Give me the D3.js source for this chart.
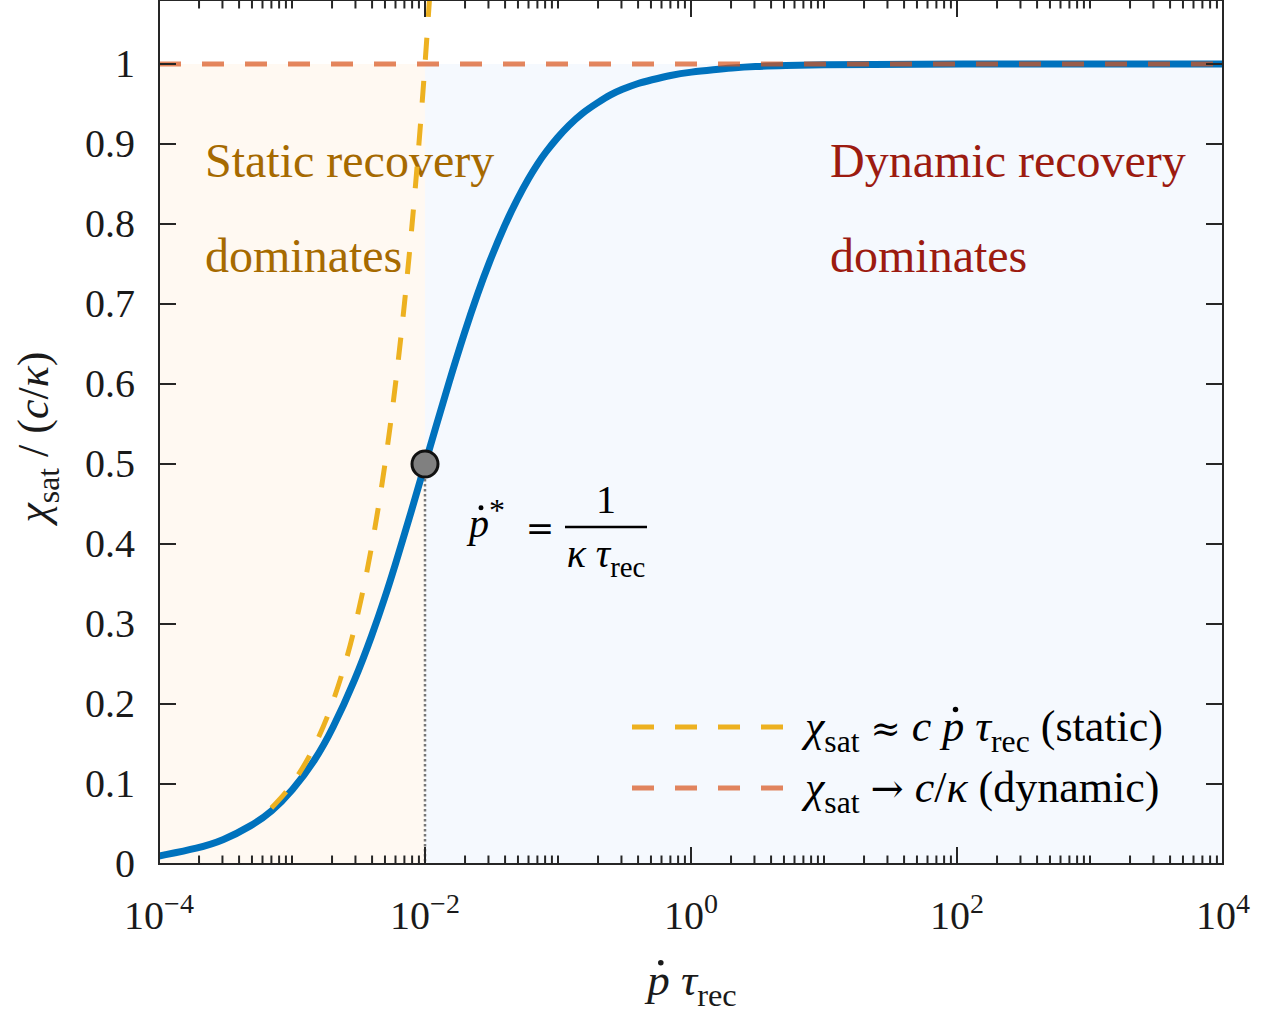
<!DOCTYPE html>
<html><head><meta charset="utf-8">
<script src="https://cdn.jsdelivr.net/npm/d3@7"></script>
<style>
body{margin:0;background:#fff}
text{font-family:"Liberation Serif","Times New Roman",serif;white-space:pre}
</style>
</head><body>
<svg id="c" width="1271" height="1012"></svg>
<script>
// ---------- data ----------
const curveX = [1e-4, 2e-4, 3e-4, 5e-4, 7e-4, 1e-3, 1.5e-3, 2e-3, 3e-3, 4e-3, 5e-3, 6e-3, 7e-3, 8.5e-3, 1e-2, 1.2e-2, 1.5e-2, 2e-2, 2.5e-2, 3e-2, 4e-2, 5e-2, 6e-2, 7e-2, 8e-2, 0.1, 0.12, 0.15, 0.2, 0.25, 0.3, 0.4, 0.5, 0.7, 1, 1.5, 2, 3, 5, 10, 20, 100, 1e3, 1e4];
const curveY = [0.010, 0.020, 0.029, 0.048, 0.065, 0.091, 0.130, 0.167, 0.231, 0.286, 0.333, 0.375, 0.412, 0.459, 0.500, 0.545, 0.600, 0.667, 0.714, 0.750, 0.800, 0.833, 0.857, 0.875, 0.889, 0.909, 0.923, 0.938, 0.952, 0.962, 0.968, 0.976, 0.980, 0.986, 0.990, 0.993, 0.995, 0.997, 0.998, 0.999, 0.9995, 1.000, 1.000, 1.000];
const staticX = [7e-4, 1e-3, 1.5e-3, 2e-3, 3e-3, 4e-3, 5e-3, 6e-3, 7e-3, 8e-3, 9e-3, 1e-2, 1.08e-2];
const staticY = [0.07, 0.10, 0.15, 0.20, 0.30, 0.40, 0.50, 0.60, 0.70, 0.80, 0.90, 1.00, 1.08];
const dynamicX = [1e-4, 1e4];
const dynamicY = [1, 1];
const crossoverX = 0.01;
const crossoverY = 0.5;
const xDomain = [1e-4, 1e4];
const yDomain = [0, 1.08];
const yTicks = [0, 0.1, 0.2, 0.3, 0.4, 0.5, 0.6, 0.7, 0.8, 0.9, 1];
const yTickLabels = ["0", "0.1", "0.2", "0.3", "0.4", "0.5", "0.6", "0.7", "0.8", "0.9", "1"];
const xMajorTicks = [1e-4, 1e-2, 1, 1e2, 1e4];
const xTickExponents = ["\u22124", "\u22122", "0", "2", "4"];
const regionLabels = [["Static recovery", "dominates"], ["Dynamic recovery", "dominates"]];

// ---------- layout ----------
const M = {l: 159, r: 1223, t: 0, b: 864};
const svg = d3.select("#c");
const x = d3.scaleLog().domain(xDomain).range([M.l, M.r]);
const y = d3.scaleLinear().domain(yDomain).range([M.b, M.t]);
const AX = "#262626";
const BLUE = "#0072BD", YEL = "#EDB120", ORA = "#D95319";
const SYM = "'DejaVu Serif', serif";

svg.append("defs").append("clipPath").attr("id", "clip")
  .append("rect").attr("x", M.l).attr("y", M.t).attr("width", M.r - M.l).attr("height", M.b - M.t);

// math text helper
function mathText(parent, px, py, parts, size, opts = {}) {
  const g = parent.append("g");
  if (opts.transform) g.attr("transform", opts.transform);
  const t = g.append("text").attr("x", px).attr("y", py).attr("font-size", size)
    .attr("fill", opts.fill || "#000");
  if (opts.anchor) t.attr("text-anchor", opts.anchor);
  let shift = 0, idx = 0; const dots = [];
  parts.forEach(p => {
    const s = t.append("tspan").text(p.t);
    let target = 0, fs = size;
    if (p.sub) { target = 0.24 * size; fs = 0.72 * size; }
    if (p.sup) { target = -0.4 * size; fs = 0.7 * size; }
    if (p.scale) fs = size * p.scale;
    s.attr("font-size", fs);
    if (p.font) s.style("font-family", p.font);
    if (target !== shift) { s.attr("dy", target - shift); shift = target; }
    if (p.i) s.attr("font-style", "italic");
    if (p.dx) s.attr("dx", p.dx);
    if (p.dot) dots.push({idx, fs});
    idx += p.t.length;
  });
  dots.forEach(d => {
    const e = t.node().getExtentOfChar(d.idx);
    const base = e.y + 0.891 * d.fs;
    g.append("circle").attr("cx", e.x + 0.6 * e.width).attr("cy", base - 0.72 * d.fs)
      .attr("r", 0.062 * d.fs).attr("fill", opts.fill || "#000");
  });
  return g;
}

// ---------- shading ----------
svg.append("rect").attr("x", x(xDomain[0])).attr("y", y(1))
  .attr("width", x(crossoverX) - x(xDomain[0])).attr("height", y(0) - y(1)).attr("fill", "#FFF9F2");
svg.append("rect").attr("x", x(crossoverX)).attr("y", y(1))
  .attr("width", x(xDomain[1]) - x(crossoverX)).attr("height", y(0) - y(1)).attr("fill", "#F5F9FE");

// region labels
const regCol = ["#A66A00", "#9C1B10"];
const regX = [205, 830];
regionLabels.forEach((lines, k) => {
  lines.forEach((s, j) => {
    svg.append("text").attr("x", regX[k]).attr("y", 177 + j * 95).attr("font-size", 48)
      .attr("fill", regCol[k]).text(s);
  });
});

// ---------- lines ----------
const plot = svg.append("g").attr("clip-path", "url(#clip)");
plot.append("line").attr("x1", x(crossoverX)).attr("x2", x(crossoverX))
  .attr("y1", y(crossoverY)).attr("y2", y(0))
  .attr("stroke", "#777").attr("stroke-width", 2.5).attr("stroke-dasharray", "2.5,2.5");

const line = d3.line().x(d => x(d[0])).y(d => y(d[1])).curve(d3.curveBasis);
plot.append("path").attr("d", line(curveX.map((v, i) => [v, curveY[i]])))
  .attr("fill", "none").attr("stroke", BLUE).attr("stroke-width", 7).attr("stroke-linejoin", "round");
plot.append("path").attr("d", d3.line().x(d => x(d[0])).y(d => y(d[1])).curve(d3.curveMonotoneX)(staticX.map((v, i) => [v, staticY[i]])))
  .attr("fill", "none").attr("stroke", YEL).attr("stroke-width", 5).attr("stroke-dasharray", "22,21");
plot.append("path").attr("d", d3.line().x(d => x(d[0])).y(d => y(d[1]))(dynamicX.map((v, i) => [v, dynamicY[i]])))
  .attr("fill", "none").attr("stroke", ORA).attr("stroke-opacity", 0.7).attr("stroke-width", 5).attr("stroke-dasharray", "22,21");

// crossover point
svg.append("circle").attr("cx", x(crossoverX)).attr("cy", y(crossoverY)).attr("r", 13)
  .attr("fill", "#808080").attr("stroke", "#111").attr("stroke-width", 3);

// annotation p* = 1/(kappa tau)
mathText(svg, 469, 537, [{t: "p", i: true, dot: true}, {t: "*", sup: true, scale: 0.8}], 40);
svg.append("text").attr("x", 540).attr("y", 540).attr("font-size", 34).attr("text-anchor", "middle")
  .style("font-family", SYM).text("=");
svg.append("text").attr("x", 606).attr("y", 513).attr("font-size", 40).attr("text-anchor", "middle").text("1");
svg.append("line").attr("x1", 565).attr("x2", 647).attr("y1", 527).attr("y2", 527)
  .attr("stroke", "#000").attr("stroke-width", 2.5);
mathText(svg, 606, 567, [{t: "\u03BA", i: true}, {t: " "}, {t: "\u03C4", i: true}, {t: "rec", sub: true}], 40, {anchor: "middle"});

// ---------- legend ----------
const legendCols = [YEL, ORA];
const legendOp = [1, 0.7];
const legendParts = [
  [{t: "\u03C7", i: true}, {t: "sat", sub: true}, {t: " "}, {t: "\u2248", font: SYM, scale: 0.82}, {t: " "}, {t: "c", i: true}, {t: " "}, {t: "p", i: true, dot: true}, {t: " "}, {t: "\u03C4", i: true}, {t: "rec", sub: true}, {t: " (static)"}],
  [{t: "\u03C7", i: true}, {t: "sat", sub: true}, {t: " "}, {t: "\u2192", font: SYM, scale: 0.9}, {t: " "}, {t: "c", i: true}, {t: "/"}, {t: "\u03BA", i: true}, {t: " (dynamic)"}]
];
const legY = [727, 788];
legendParts.forEach((parts, k) => {
  svg.append("line").attr("x1", 632).attr("x2", 785).attr("y1", legY[k]).attr("y2", legY[k])
    .attr("stroke", legendCols[k]).attr("stroke-opacity", legendOp[k]).attr("stroke-width", 5)
    .attr("stroke-dasharray", "22,21");
  mathText(svg, 805, legY[k] + 14, parts, 44);
});

// ---------- axes ----------
const ax = svg.append("g").attr("stroke", AX).attr("stroke-width", 2);
ax.append("rect").attr("x", M.l).attr("y", M.t).attr("width", M.r - M.l).attr("height", M.b - M.t).attr("fill", "none");
yTicks.forEach(v => {
  ax.append("line").attr("x1", M.l).attr("x2", M.l + 17).attr("y1", y(v)).attr("y2", y(v));
  ax.append("line").attr("x1", M.r).attr("x2", M.r - 17).attr("y1", y(v)).attr("y2", y(v));
});
yTicks.forEach((v, i) => {
  svg.append("text").attr("x", 135).attr("y", y(v) + 13).attr("font-size", 40)
    .attr("text-anchor", "end").attr("fill", "#1a1a1a").text(yTickLabels[i]);
});
const minor = [];
for (let e = -4; e < 4; e++) for (let k = 1; k <= 9; k++) {
  const v = k * Math.pow(10, e);
  if (!xMajorTicks.some(m => Math.abs(m - v) / m < 1e-9)) minor.push(v);
}
minor.forEach(v => {
  ax.append("line").attr("x1", x(v)).attr("x2", x(v)).attr("y1", M.b).attr("y2", M.b - 8.5);
  ax.append("line").attr("x1", x(v)).attr("x2", x(v)).attr("y1", M.t).attr("y2", M.t + 8.5);
});
xMajorTicks.forEach(v => {
  ax.append("line").attr("x1", x(v)).attr("x2", x(v)).attr("y1", M.b).attr("y2", M.b - 17);
  ax.append("line").attr("x1", x(v)).attr("x2", x(v)).attr("y1", M.t).attr("y2", M.t + 17);
});
xMajorTicks.forEach((v, i) => {
  mathText(svg, x(v), 929, [{t: "10"}, {t: xTickExponents[i], sup: true}], 40, {anchor: "middle", fill: "#1a1a1a"});
});

// axis labels
mathText(svg, 692, 995, [{t: "p", i: true, dot: true}, {t: " "}, {t: "\u03C4", i: true}, {t: "rec", sub: true}], 45, {anchor: "middle", fill: "#1a1a1a"});
mathText(svg, 0, 0, [{t: "\u03C7", i: true}, {t: "sat", sub: true}, {t: " / ("}, {t: "c", i: true}, {t: "/"}, {t: "\u03BA", i: true}, {t: ")"}], 44,
  {anchor: "middle", fill: "#1a1a1a", transform: "translate(48,437) rotate(-90)"});
</script>
</body></html>
